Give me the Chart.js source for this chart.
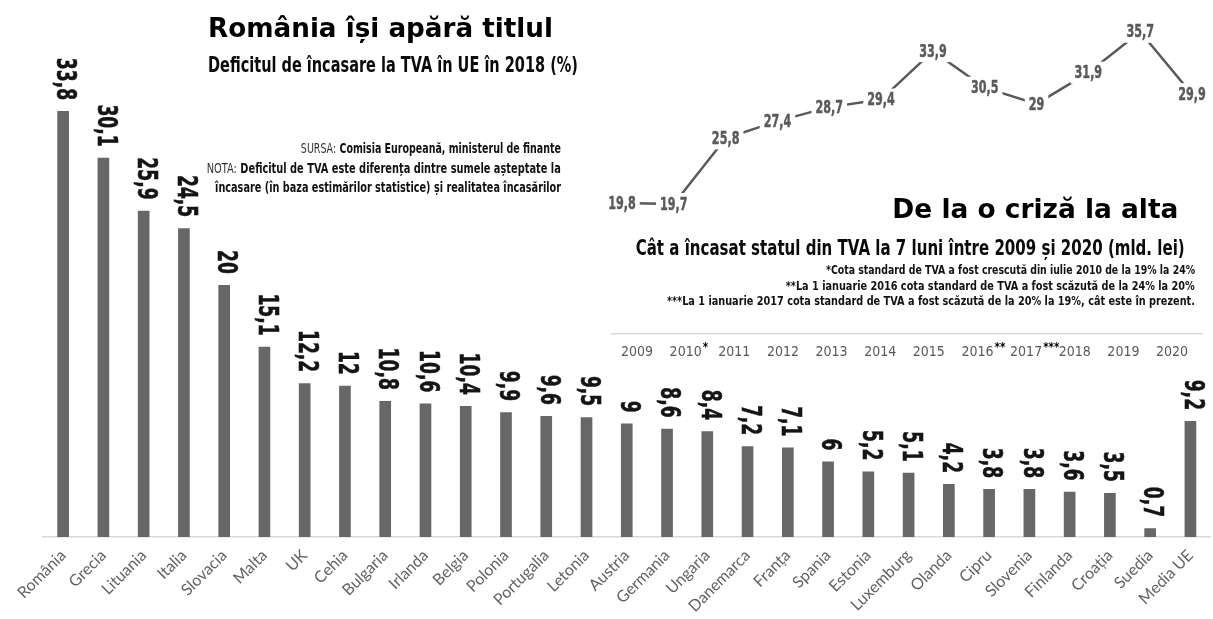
<!DOCTYPE html>
<html><head><meta charset="utf-8">
<script src="https://cdn.jsdelivr.net/npm/chart.js@4.4.0/dist/chart.umd.min.js"></script>
<style>
html,body{margin:0;padding:0;background:#fff;width:1213px;height:619px;overflow:hidden;position:relative}
canvas{position:absolute}
#bar{left:0;top:0}
#line{left:600px;top:0}
.t{position:absolute;white-space:nowrap;line-height:1;color:#000;font-family:"DejaVu Sans";font-weight:bold}
.L{transform-origin:left center}
.R{transform-origin:right center}
.big{font-size:27px}
.sub{font-size:21px;color:#0a0a0a}
.note{font-size:14px;color:#111}
.note span{font-weight:normal;color:#333}
.fn{font-size:13px;color:#111}
</style></head>
<body>
<canvas id="bar" width="1213" height="619"></canvas>
<canvas id="line" width="613" height="380"></canvas>
<div class="t big L" data-w="345" style="left:208px;top:14px">România își apără titlul</div>
<div class="t sub L" data-w="370" style="left:208px;top:55px">Deficitul de încasare la TVA în UE în 2018 (%)</div>
<div class="t note R" data-w="260" style="right:652px;top:141px"><span>SURSA:</span> Comisia Europeană, ministerul de finante</div>
<div class="t note R" data-w="354" style="right:652px;top:161px"><span>NOTA:</span> Deficitul de TVA este diferența dintre sumele așteptate la</div>
<div class="t note R" data-w="346" style="right:652px;top:180px">încasare (în baza estimărilor statistice) și realitatea încasărilor</div>
<div class="t big R" data-w="286" style="right:35px;top:195px">De la o criză la alta</div>
<div class="t sub R" data-w="549" style="right:28px;top:238px">Cât a încasat statul din TVA la 7 luni între 2009 și 2020 (mld. lei)</div>
<div class="t fn R" data-w="369" style="right:18px;top:263px">*Cota standard de TVA a fost crescută din iulie 2010 de la 19% la 24%</div>
<div class="t fn R" data-w="409" style="right:18px;top:279px">**La 1 ianuarie 2016 cota standard de TVA a fost scăzută de la 24% la 20%</div>
<div class="t fn R" data-w="528" style="right:18px;top:294px">***La 1 ianuarie 2017 cota standard de TVA a fost scăzută de la 20% la 19%, cât este în prezent.</div>
<script>
const countries = ["România","Grecia","Lituania","Italia","Slovacia","Malta","UK","Cehia","Bulgaria","Irlanda","Belgia","Polonia","Portugalia","Letonia","Austria","Germania","Ungaria","Danemarca","Franța","Spania","Estonia","Luxemburg","Olanda","Cipru","Slovenia","Finlanda","Croația","Suedia","Media UE"];
const gapValues = [33.8,30.1,25.9,24.5,20,15.1,12.2,12,10.8,10.6,10.4,9.9,9.6,9.5,9,8.6,8.4,7.2,7.1,6,5.2,5.1,4.2,3.8,3.8,3.6,3.5,0.7,9.2];
const years = ["2009","2010","2011","2012","2013","2014","2015","2016","2017","2018","2019","2020"];
const yearMarks = ["","*","","","","","","**","***","","",""];
const vatValues = [19.8,19.7,25.8,27.4,28.7,29.4,33.9,30.5,29,31.9,35.7,29.9];

const fmt = v => String(v).replace('.', ',');

document.querySelectorAll('[data-w]').forEach(el => {
  const w = el.getBoundingClientRect().width;
  el.style.transform = 'scaleX(' + (el.dataset.w / w) + ')';
});

const barLabels = {
  id: 'barLabels',
  afterDatasetsDraw(chart) {
    const ctx = chart.ctx, meta = chart.getDatasetMeta(0);
    ctx.save();
    ctx.font = 'bold 26px "DejaVu Sans"';
    ctx.fillStyle = '#141414'; ctx.strokeStyle = '#141414'; ctx.lineWidth = 0.6;
    ctx.textAlign = 'right'; ctx.textBaseline = 'middle';
    meta.data.forEach((el, i) => {
      const s = fmt(gapValues[i]);
      ctx.save();
      ctx.translate(el.x + 1, el.y - 11);
      ctx.rotate(Math.PI / 2);
      ctx.scale(0.66, 1);
      ctx.fillText(s, 0, 0); ctx.strokeText(s, 0, 0);
      ctx.restore();
    });
    ctx.restore();
  }
};

new Chart(document.getElementById('bar'), {
  type: 'bar',
  data: { labels: countries, datasets: [{ data: gapValues, backgroundColor: '#676767', barPercentage: 0.29, categoryPercentage: 1 }] },
  options: {
    responsive: false, animation: false,
    layout: { padding: { left: 43, right: 0, top: 33, bottom: 0 } },
    plugins: { legend: { display: false }, tooltip: { enabled: false } },
    scales: {
      y: { display: false, min: 0, max: 40 },
      x: {
        grid: { display: false, drawTicks: false },
        border: { display: true, color: '#d9d9d9', width: 1.5 },
        ticks: { color: '#626262', font: { family: 'Lato', size: 16 }, minRotation: 45, maxRotation: 45, autoSkip: false, padding: 9 },
        afterFit(s) { s.height = 82; }
      }
    }
  },
  plugins: [barLabels]
});

const tickFont = '"DejaVu Sans Condensed", "Roboto Condensed", Roboto';

const lineLabels = {
  id: 'lineLabels',
  afterDatasetsDraw(chart) {
    const ctx = chart.ctx, meta = chart.getDatasetMeta(0);
    ctx.save();
    ctx.font = 'bold 18px "DejaVu Sans"';
    ctx.textAlign = 'center'; ctx.textBaseline = 'middle';
    meta.data.forEach((el, i) => {
      const s = fmt(vatValues[i]);
      const w = ctx.measureText(s).width * 0.62;
      ctx.fillStyle = '#fff';
      ctx.fillRect(el.x - w / 2 - 4, el.y - 11, w + 8, 22);
      ctx.save();
      ctx.translate(el.x, el.y + 1);
      ctx.scale(0.62, 1);
      ctx.fillStyle = '#5a5a5a'; ctx.strokeStyle = '#5a5a5a'; ctx.lineWidth = 0.5;
      ctx.fillText(s, 0, 0); ctx.strokeText(s, 0, 0);
      ctx.restore();
    });
    ctx.restore();
  },
  afterDraw(chart) {
    const ctx = chart.ctx, sc = chart.scales.x2;
    ctx.save();
    ctx.font = '14px ' + tickFont;
    const ws = years.map(y => ctx.measureText(y).width / 2);
    ctx.font = 'bold 13px "DejaVu Sans"';
    ctx.fillStyle = '#000'; ctx.textAlign = 'left'; ctx.textBaseline = 'alphabetic';
    yearMarks.forEach((m, i) => {
      if (!m) return;
      ctx.save();
      ctx.translate(sc.getPixelForValue(i) + ws[i] + 1, 351);
      ctx.scale(0.8, 1);
      ctx.fillText(m, 0, 0);
      ctx.restore();
    });
    ctx.restore();
  }
};

new Chart(document.getElementById('line'), {
  type: 'line',
  data: { datasets: [{ data: vatValues.map((v, i) => ({ x: i, y: v })), borderColor: '#595959', borderWidth: 2.5, pointRadius: 0, tension: 0, fill: false, xAxisID: 'x', yAxisID: 'y' }] },
  options: {
    responsive: false, animation: false,
    layout: { padding: { left: 12, right: 11, top: 7, bottom: 0 } },
    plugins: { legend: { display: false }, tooltip: { enabled: false } },
    scales: {
      y: { display: false, min: 7.62, max: 38 },
      x: { type: 'linear', display: false, min: -0.193, max: 11.193 },
      x2: {
        type: 'linear', position: 'bottom', min: -0.514, max: 11.616,
        grid: { display: false, drawTicks: false },
        border: { display: true, color: '#d9d9d9', width: 1.5 },
        afterBuildTicks(s) { s.ticks = years.map((y, i) => ({ value: i })); },
        ticks: { color: '#595959', font: { family: tickFont, size: 14 }, maxRotation: 0, autoSkip: false, padding: 10, callback: (v, i) => years[i] },
        afterFit(s) { s.height = 46; }
      }
    }
  },
  plugins: [lineLabels]
});
</script>
</body></html>
